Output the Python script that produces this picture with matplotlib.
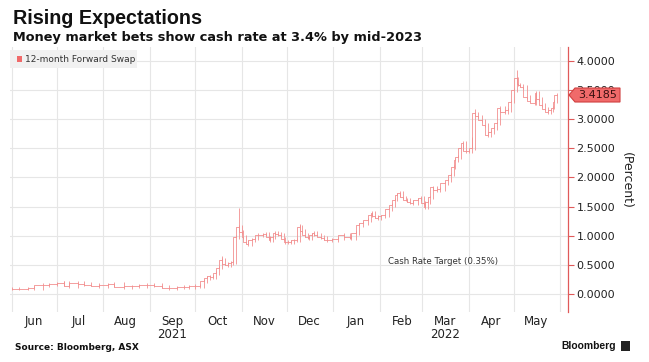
import matplotlib
matplotlib.use("Agg")
import matplotlib.pyplot as plt
import matplotlib.dates as mdates
import matplotlib.patches as mpatches
import numpy as np
import pandas as pd

# ---------------- data ----------------
dates = ["2021-06-01", "2021-06-06", "2021-06-12", "2021-06-16", "2021-06-22", "2021-06-26",
         "2021-07-01", "2021-07-06", "2021-07-09", "2021-07-15", "2021-07-19", "2021-07-24",
         "2021-07-29", "2021-08-04", "2021-08-08", "2021-08-15", "2021-08-20", "2021-08-25",
         "2021-08-30", "2021-09-04", "2021-09-09", "2021-09-14", "2021-09-19", "2021-09-24",
         "2021-09-27", "2021-10-01", "2021-10-04", "2021-10-07", "2021-10-09", "2021-10-11",
         "2021-10-13", "2021-10-15", "2021-10-17", "2021-10-19", "2021-10-21", "2021-10-23",
         "2021-10-25", "2021-10-26", "2021-10-28", "2021-10-30", "2021-11-01", "2021-11-02",
         "2021-11-04", "2021-11-05", "2021-11-08", "2021-11-10", "2021-11-12", "2021-11-15",
         "2021-11-17", "2021-11-19", "2021-11-20", "2021-11-22", "2021-11-23", "2021-11-25",
         "2021-11-27", "2021-11-29", "2021-11-30", "2021-12-02", "2021-12-04", "2021-12-06",
         "2021-12-08", "2021-12-10", "2021-12-11", "2021-12-13", "2021-12-15", "2021-12-16",
         "2021-12-18", "2021-12-19", "2021-12-21", "2021-12-24", "2021-12-26", "2021-12-28",
         "2021-12-31", "2022-01-04", "2022-01-08", "2022-01-12", "2022-01-13", "2022-01-16",
         "2022-01-18", "2022-01-21", "2022-01-24", "2022-01-26", "2022-01-27", "2022-01-29",
         "2022-01-31", "2022-02-02", "2022-02-04", "2022-02-07", "2022-02-09", "2022-02-11",
         "2022-02-12", "2022-02-14", "2022-02-16", "2022-02-18", "2022-02-19", "2022-02-21",
         "2022-02-23", "2022-02-26", "2022-02-28", "2022-03-02", "2022-03-03", "2022-03-05",
         "2022-03-06", "2022-03-08", "2022-03-11", "2022-03-13", "2022-03-16", "2022-03-18",
         "2022-03-20", "2022-03-22", "2022-03-23", "2022-03-25", "2022-03-27", "2022-03-28",
         "2022-03-30", "2022-04-01", "2022-04-03", "2022-04-05", "2022-04-07", "2022-04-10",
         "2022-04-12", "2022-04-14", "2022-04-16", "2022-04-18", "2022-04-20", "2022-04-22",
         "2022-04-25", "2022-04-27", "2022-04-29", "2022-05-01", "2022-05-03", "2022-05-04",
         "2022-05-05", "2022-05-07", "2022-05-10", "2022-05-12", "2022-05-15", "2022-05-16",
         "2022-05-18", "2022-05-20", "2022-05-22", "2022-05-24", "2022-05-26", "2022-05-27",
         "2022-05-28", "2022-05-30"]
closes = [0.09, 0.09, 0.09, 0.10, 0.15, 0.16,
          0.17, 0.19, 0.14, 0.19, 0.17, 0.16,
          0.14, 0.15, 0.17, 0.12, 0.13, 0.14,
          0.15, 0.15, 0.13, 0.10, 0.11, 0.12,
          0.12, 0.14, 0.14, 0.22, 0.27, 0.30,
          0.29, 0.36, 0.45, 0.58, 0.52, 0.50,
          0.53, 0.55, 0.98, 1.15, 1.06, 0.98,
          0.90, 0.85, 0.93, 0.95, 1.01, 1.02,
          1.03, 0.97, 0.93, 0.97, 1.05, 1.03,
          1.01, 0.95, 0.89, 0.90, 0.89, 0.92,
          0.93, 1.15, 1.08, 1.01, 0.97, 0.96,
          1.02, 1.05, 1.02, 0.98, 0.96, 0.93,
          0.93, 0.95, 1.01, 0.98, 0.96, 1.05,
          1.18, 1.22, 1.27, 1.35, 1.39, 1.33,
          1.30, 1.33, 1.35, 1.45, 1.53, 1.62,
          1.70, 1.74, 1.66, 1.62, 1.61, 1.58,
          1.56, 1.62, 1.65, 1.56, 1.49, 1.58,
          1.66, 1.83, 1.78, 1.80, 1.90, 1.95,
          2.05, 2.18, 2.30, 2.35, 2.50, 2.60,
          2.45, 2.45, 2.50, 3.10, 3.05, 2.98,
          2.90, 2.73, 2.78, 2.85, 2.93, 3.19,
          3.12, 3.16, 3.30, 3.50, 3.70, 3.60,
          3.58, 3.55, 3.38, 3.32, 3.28, 3.45,
          3.35, 3.24, 3.18, 3.12, 3.15, 3.20,
          3.30, 3.4185]
# intraday spikes (date, high)
spike_dates = ["2021-07-06", "2021-10-19", "2021-10-30", "2021-12-10", "2022-04-03", "2022-04-05", "2022-05-03"]
spike_highs = [0.22, 0.66, 1.47, 1.20, 2.70, 3.18, 3.84]

y_ticks = [0.0, 0.5, 1.0, 1.5, 2.0, 2.5, 3.0, 3.5, 4.0]
month_labels = ["Jun", "Jul", "Aug", "Sep\n2021", "Oct", "Nov", "Dec", "Jan", "Feb", "Mar\n2022", "Apr", "May"]
last_value = 3.4185

# ---------------- plot ----------------
W, H = 649, 362
fig = plt.figure(figsize=(W / 100, H / 100), dpi=100)
fig.patch.set_facecolor("white")

def fx(px):
    return px / W

def fy(py):
    return 1 - py / H

ax = fig.add_axes([fx(10), fy(312), fx(568) - fx(10), fy(47) - fy(312)])

d = pd.to_datetime(dates)
c = np.array(closes)
line_col = "#f28f8f"

prev = np.concatenate([[c[0]], c[:-1]])
lo = np.minimum(prev, c) - 0.03
hi = np.maximum(prev, c) + 0.03
ax.vlines(d, lo, hi, color=line_col, lw=0.6)
ax.step(d, c, where="pre", color=line_col, lw=0.6)
sd = pd.to_datetime(spike_dates)
sv = [c[list(d).index(x)] for x in sd]
ax.vlines(sd, sv, spike_highs, color=line_col, lw=0.6)

ax.set_xlim(pd.Timestamp("2021-05-31"), pd.Timestamp("2022-06-06"))
ax.set_ylim(-0.31, 4.24)

# grid
ax.xaxis.set_major_locator(mdates.MonthLocator())
ax.xaxis.set_major_formatter(plt.NullFormatter())
ax.xaxis.set_minor_locator(mdates.MonthLocator(bymonthday=16))
ax.xaxis.set_minor_formatter(plt.FixedFormatter(month_labels))
ax.tick_params(axis="x", which="both", length=0, pad=2)
for lab in ax.get_xticklabels(minor=True):
    lab.set_fontfamily(["Liberation Sans Narrow", "DejaVu Sans"])
    lab.set_fontsize(8.5)
    lab.set_color("#222222")
    lab.set_linespacing(1.0)
ax.grid(True, axis="x", which="major", color="#e6e6e6", lw=0.8)
ax.grid(True, axis="y", color="#e6e6e6", lw=0.8)

ax.yaxis.tick_right()
ax.set_yticks(y_ticks)
ax.set_yticklabels([f"{v:.4f}" for v in y_ticks])
ax.tick_params(axis="y", length=4, width=0.8, color="#e05a5a", pad=2, labelsize=8, labelcolor="#222222")

for s in ["left", "top", "bottom"]:
    ax.spines[s].set_visible(False)
ax.spines["right"].set_color("#e05a5a")
ax.spines["right"].set_linewidth(0.9)
ax.set_axisbelow(True)

# titles
fig.text(fx(13), fy(18), "Rising Expectations", fontsize=14.2, fontweight="bold",
         family=["Liberation Sans", "DejaVu Sans"], va="center", ha="left", color="#111111")
fig.text(fx(13), fy(37), "Money market bets show cash rate at 3.4% by mid-2023", fontsize=9.3,
         fontweight="bold", family="DejaVu Sans", va="center", ha="left", color="#111111")

# legend box
fig.patches.append(mpatches.Rectangle((fx(10), fy(68)), fx(137) - fx(10), fy(50) - fy(68),
                                      transform=fig.transFigure, facecolor="#f1f1f1", edgecolor="none"))
fig.patches.append(mpatches.Rectangle((fx(17), fy(62)), fx(5), fy(56) - fy(62),
                                      transform=fig.transFigure, facecolor="#f06a6a", edgecolor="none"))
fig.text(fx(25), fy(59), "12-month Forward Swap", fontsize=6.5, family=["Liberation Sans Narrow", "DejaVu Sans"],
         va="center", ha="left", color="#333333")

# annotation
ax.text(pd.Timestamp("2022-02-06"), 0.55, "Cash Rate Target (0.35%)", fontsize=6.2,
        family="DejaVu Sans", ha="left", va="center", color="#333333")

# value tag
ty = fy(95)
poly = mpatches.Polygon([(fx(569), ty), (fx(575), fy(88)), (fx(620), fy(88)),
                         (fx(620), fy(102)), (fx(575), fy(102))], closed=True,
                        transform=fig.transFigure, facecolor="#f06a6a", edgecolor="#d04040", lw=0.8)
fig.patches.append(poly)
fig.text(fx(598), ty, f"{last_value:.4f}", fontsize=8, family="DejaVu Sans",
         ha="center", va="center", color="#3a1010")

fig.text(fx(626), fy(180), "(Percent)", rotation=270, fontsize=9, family="DejaVu Sans",
         ha="center", va="center", color="#222222")

# footer
fig.text(fx(15), fy(348), "Source: Bloomberg, ASX", fontsize=6.5, fontweight="bold",
         family="DejaVu Sans", ha="left", va="center", color="#111111")
fig.text(fx(616), fy(346), "Bloomberg", fontsize=7.4, fontweight="bold",
         family=["Liberation Sans", "DejaVu Sans"], ha="right", va="center", color="#111111")
fig.patches.append(mpatches.Rectangle((fx(621), fy(351)), fx(9), fy(341) - fy(351),
                                      transform=fig.transFigure, facecolor="#222222", edgecolor="none"))

fig.savefig("out.png", dpi=100)
